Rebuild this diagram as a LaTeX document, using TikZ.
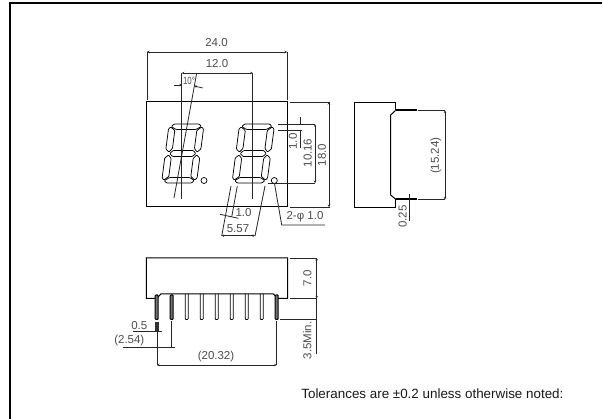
\documentclass[tikz,border=0pt]{standalone}
\usepackage{fontspec}
\setmainfont{Liberation Sans}
\usetikzlibrary{arrows.meta}
\tikzset{
	part/.style={draw=black,line width=1pt},
	dimline/.style={draw=black!85,line width=0.8pt},
	dimarrow/.style={dimline,{Stealth[length=2.5pt,width=2.5pt]}-{Stealth[length=2.5pt,width=2.5pt]}},
	dimtext/.style={text=black!70,font=\fontsize{11.5}{12}\selectfont,inner sep=0pt},
	pin/.style={draw=black,line width=0.8pt,rounded corners=0.8pt},
	darkpin/.style={draw=black,fill=black!55,line width=1pt,rounded corners=0.8pt}
}
\begin{document}
\begin{tikzpicture}[x=1pt,y=-1pt]
	\useasboundingbox (0,0) rectangle (602,419);
	\def\segtop{(-12.5,-29.5) -- (12.5,-29.5) -- (15,-27) -- (10,-24) -- (-10,-24) -- (-15,-27) -- cycle}
	\def\segmid{(-10,-3) -- (10,-3) -- (13,0) -- (10,3) -- (-10,3) -- (-13,0) -- cycle}
	\def\segside{(-17.5,-24.5) -- (-15.5,-26.5) -- (-11,-23) -- (-11,-5) -- (-14,-1.5) -- (-17.5,-4.5) -- cycle}
	% frame
	\draw[line width=1.3pt] (10,419) -- (10,3) -- (602,3);
	% front view
	\draw[part] (146.5,102) rectangle (287.5,207);
	\foreach \cx in {182.8,253.3} {
		\begin{scope}[shift={(\cx,153.5)},xslant=.13,line width=0.75pt,rounded corners=0.8pt]
			\draw \segmid;
			\foreach \sy in {1,-1} {
				\begin{scope}[yscale=\sy]
					\draw \segtop;
					\foreach \sx in {1,-1} {
						\draw[xscale=\sx] \segside;
					}
				\end{scope}
			}
		\end{scope}
	}
	\draw[line width=0.7pt] (204,180.5) circle (3);
	\draw[line width=0.7pt] (274.3,180.5) circle (3);
	% width dimensions
	\draw[dimline] (147,52) -- (147,100);
	\draw[dimline] (287,52) -- (287,100);
	\draw[dimarrow] (147,52) -- (287,52);
	\node (wholewidth) [dimtext] at (216.5,43) {24.0};
	\draw[dimline] (181.8,73) -- (181.8,199);
	\draw[dimline] (252.7,73) -- (252.7,199);
	\draw[dimarrow] (181.8,73) -- (252.7,73);
	\node (pitch) [dimtext] at (217,63.5) {12.0};
	\draw[dimline] (196.7,73) -- (174,198);
	\draw[dimline,-{Stealth[length=2.5pt,width=2.5pt]}] (174,85) -- (181.8,85);
	\draw[dimline,-{Stealth[length=2.5pt,width=2.5pt]}] (202.7,88) -- (194,86);
	\node (slantangle) [text=black!70,font=\fontsize{10.5}{11}\selectfont,inner sep=0pt,xscale=.75,transform shape] at (189,81) {10°};
	% height dimensions
	\draw[dimline] (290,102) -- (330,102);
	\draw[dimline] (290,207) -- (330,207);
	\draw[dimarrow] (329,102) -- (329,207);
	\node (wholeheight) [dimtext,rotate=90] at (322,155) {18.0};
	\draw[dimline] (278,124.3) -- (315,124.3);
	\draw[dimline] (268,183) -- (315,183);
	\draw[dimarrow] (315,124.3) -- (315,183);
	\node (digitheight) [dimtext,rotate=90] at (307.7,153) {10.16};
	\draw[dimline] (278,130.7) -- (302,130.7);
	\draw[dimline] (300,117) -- (300,124.3);
	\draw[dimline] (300,130.7) -- (300,148);
	\node (segwidth) [dimtext,rotate=90] at (293,141.5) {1.0};
	% slanted dimensions under digit
	\draw[dimline] (231,186) -- (221.7,236);
	\draw[dimline] (237.3,186) -- (231.7,217);
	\draw[dimline] (265,186) -- (255,236);
	\draw[dimarrow] (221.7,235.7) -- (255,235.7);
	\draw[dimline] (220,214.3) -- (238.3,218.3);
	\node (segtext) [dimtext] at (243.5,212.5) {1.0};
	\node (digitwidth) [dimtext] at (238,228.5) {5.57};
	\draw[dimline] (274.5,183.5) -- (281.7,225) -- (325,225);
	\node (dotsize) [dimtext] at (305,217) {2-φ 1.0};
	% side view
	\draw[part] (395.7,110.3) -- (395.7,102.3) -- (354,102.3) -- (354,207.3) -- (395.7,207.3) -- (395.7,199.3);
	\draw[part] (395.7,110.3) -- (390.7,115) -- (390.7,195) -- (395.7,199.3);
	\draw[line width=1.6pt] (395.7,110.3) -- (416.7,110.3);
	\draw[line width=1.6pt] (395.7,199.3) -- (416.7,199.3);
	\draw[dimline] (418,110.5) -- (445,110.5);
	\draw[dimline] (418,199.5) -- (445,199.5);
	\draw[dimarrow] (445,110.5) -- (445,199.5);
	\node (pinspan) [dimtext,rotate=90] at (436,155.7) {(15.24)};
	\draw[dimline] (409.3,194.3) -- (409.3,221);
	\node (pinthick) [dimtext,rotate=90] at (402.7,216.7) {0.25};
	% bottom view
	\draw[part] (157,298.3) -- (146.3,298.3) -- (146.3,258) -- (287.7,258) -- (287.7,298.3) -- (277.3,298.3) -- (273.3,293.8) -- (161,293.8) -- cycle;
	\foreach \px in {186.7,201.7,...,261.7} {
		\draw[pin] (\px-1.5,293.8) -- (\px-1.5,319.5) -- (\px+1.5,319.5) -- (\px+1.5,293.8);
	}
	\foreach \px in {156.7,171.7,276.7} {
		\draw[darkpin] (\px-1.5,295) -- (\px-1.5,319.5) -- (\px+1.5,319.5) -- (\px+1.5,295) -- cycle;
	}
	% bottom view dimensions
	\draw[dimline] (290,258) -- (317,258);
	\draw[dimline] (290,298.3) -- (317,298.3);
	\draw[dimarrow] (316.7,258) -- (316.7,298.3);
	\node (bodydepth) [dimtext,rotate=90] at (307.3,278.3) {7.0};
	\draw[dimline] (280,319.5) -- (317,319.5);
	\draw[dimline] (316.7,298.3) -- (316.7,354);
	\node (pinlength) [dimtext,rotate=90] at (307.3,340.5) {3.5Min.};
	\draw[line width=3.5pt,draw=black!80] (157,322) -- (157,331.7);
	\draw[dimline] (133,331.7) -- (161.7,331.7);
	\node (pinwidth) [dimtext] at (139.3,326) {0.5};
	\draw[dimline] (157,331.7) -- (157,365);
	\draw[dimline] (171.7,321) -- (171.7,347.7);
	\draw[dimline] (122.7,347.7) -- (175,347.7);
	\node (pinpitch) [dimtext] at (129.3,341) {(2.54)};
	\draw[dimline] (276.7,321) -- (276.7,365);
	\draw[dimarrow] (157,365) -- (276.7,365);
	\node (pinrow) [dimtext] at (216,356.7) {(20.32)};
	% note
	\node (tolerances) [font=\fontsize{13.4}{14}\selectfont,inner sep=0pt,text=black!90] at (432.4,394) {Tolerances are ±0.2 unless otherwise noted:};
\end{tikzpicture}
\end{document}
